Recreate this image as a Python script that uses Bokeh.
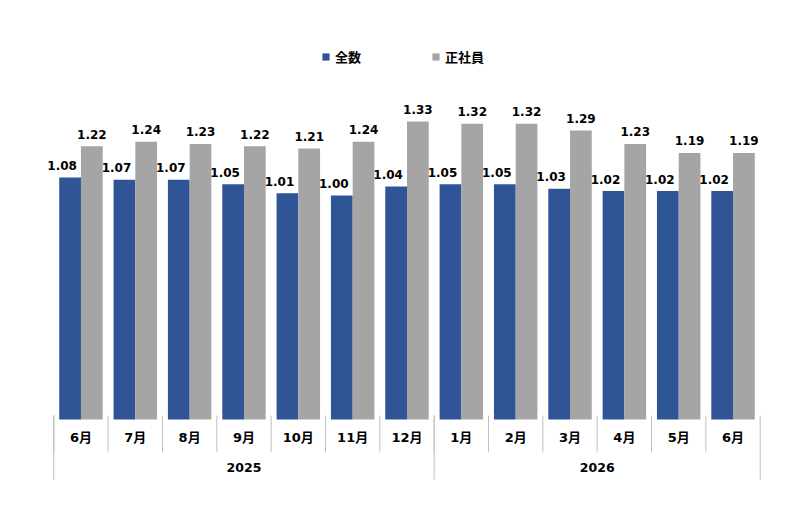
from bokeh.plotting import figure
from bokeh.models import (FactorRange, ColumnDataSource, Range1d, Legend, LegendItem)
from bokeh.transform import dodge
from bokeh.core.properties import value
from bokeh.embed import file_html
from bokeh.resources import INLINE

# ---- data ----
years = ["2025"] * 7 + ["2026"] * 6
months = ["6月", "7月", "8月", "9月", "10月", "11月", "12月",
          "1月", "2月", "3月", "4月", "5月", "6月"]
total = [1.08, 1.07, 1.07, 1.05, 1.01, 1.00, 1.04, 1.05, 1.05, 1.03, 1.02, 1.02, 1.02]
regular = [1.22, 1.24, 1.23, 1.22, 1.21, 1.24, 1.33, 1.32, 1.32, 1.29, 1.23, 1.19, 1.19]
year_labels = ["2025", "2026"]
series_names = ["全数", "正社員"]

BLUE = "#2F5597"
GRAY = "#A5A5A5"
NUM_FONT = "DejaVu Sans"
JP_FONT = "DejaVu Sans, Noto Sans CJK JP"

factors = list(zip(years, months))

src = ColumnDataSource(dict(
    x=factors, total=total, regular=regular,
    total_lbl=[f"{v:.2f}" for v in total],
    regular_lbl=[f"{v:.2f}" for v in regular],
    month=months,
))

x_range = FactorRange(*factors, group_padding=0, factor_padding=0,
                      range_padding=0.3, range_padding_units="absolute")

p = figure(width=800, height=508, x_range=x_range,
           y_range=Range1d(-0.3973, 1.8705),
           output_backend="svg", toolbar_location=None,
           x_axis_location=None, y_axis_location=None,
           min_border_left=37, min_border_right=24,
           min_border_top=0, min_border_bottom=0)
p.outline_line_color = None
p.xgrid.visible = False
p.ygrid.visible = False
p.background_fill_color = "white"

r_blue = p.vbar(x=dodge("x", -0.2, range=x_range), top="total", width=0.4,
                bottom=0, source=src, fill_color=BLUE, line_color=None)
r_gray = p.vbar(x=dodge("x", 0.2, range=x_range), top="regular", width=0.4,
                bottom=0, source=src, fill_color=GRAY, line_color=None)

# value labels
p.text(x=dodge("x", -0.2, range=x_range), y="total", text="total_lbl", source=src,
       x_offset=-8, y_offset=-12, text_align="center", text_baseline="alphabetic",
       text_font=value(NUM_FONT), text_font_style="bold", text_font_size="12px",
       text_color="#000000")
p.text(x=dodge("x", 0.2, range=x_range), y="regular", text="regular_lbl", source=src,
       y_offset=-12, text_align="center", text_baseline="alphabetic",
       text_font=value(NUM_FONT), text_font_style="bold", text_font_size="12px",
       text_color="#000000")

# category separators (short, month level)
SEP = "#BFBFBF"
p.segment(x0=dodge("x", -0.5, range=x_range), y0=0.018,
          x1=dodge("x", -0.5, range=x_range), y1=-0.147,
          source=src, line_color=SEP, line_width=1)
last_src = ColumnDataSource(dict(x=[factors[-1]]))
p.segment(x0=dodge("x", 0.5, range=x_range), y0=0.018,
          x1=dodge("x", 0.5, range=x_range), y1=-0.268,
          source=last_src, line_color=SEP, line_width=1)
# year separators (long)
ystart_src = ColumnDataSource(dict(x=[factors[0], factors[7]]))
p.segment(x0=dodge("x", -0.5, range=x_range), y0=0.018,
          x1=dodge("x", -0.5, range=x_range), y1=-0.268,
          source=ystart_src, line_color=SEP, line_width=1)

# month labels
p.text(x="x", y=-0.0804, text="month", source=src, text_align="center",
       text_baseline="middle", text_font=value(JP_FONT), text_font_style="bold",
       text_font_size="13px", text_color="#000000")
# year labels
ysrc = ColumnDataSource(dict(x=year_labels, label=year_labels))
p.text(x="x", y=-0.214, text="label", source=ysrc, text_align="center",
       text_baseline="middle", text_font=value(NUM_FONT), text_font_style="bold",
       text_font_size="12.5px", text_color="#000000")

legend = Legend(items=[LegendItem(label=series_names[0], renderers=[r_blue]),
                       LegendItem(label=series_names[1], renderers=[r_gray])],
                orientation="horizontal", location=(284, 442),
                glyph_width=9, glyph_height=9, label_height=14,
                label_standoff=5, spacing=70, padding=0, margin=0,
                border_line_color=None, background_fill_alpha=0,
                label_text_font="Noto Sans CJK JP", label_text_font_style="bold",
                label_text_font_size="13px", label_text_color="#000000")
p.add_layout(legend, "center")

open("out.html", "w").write(file_html(p, INLINE))
